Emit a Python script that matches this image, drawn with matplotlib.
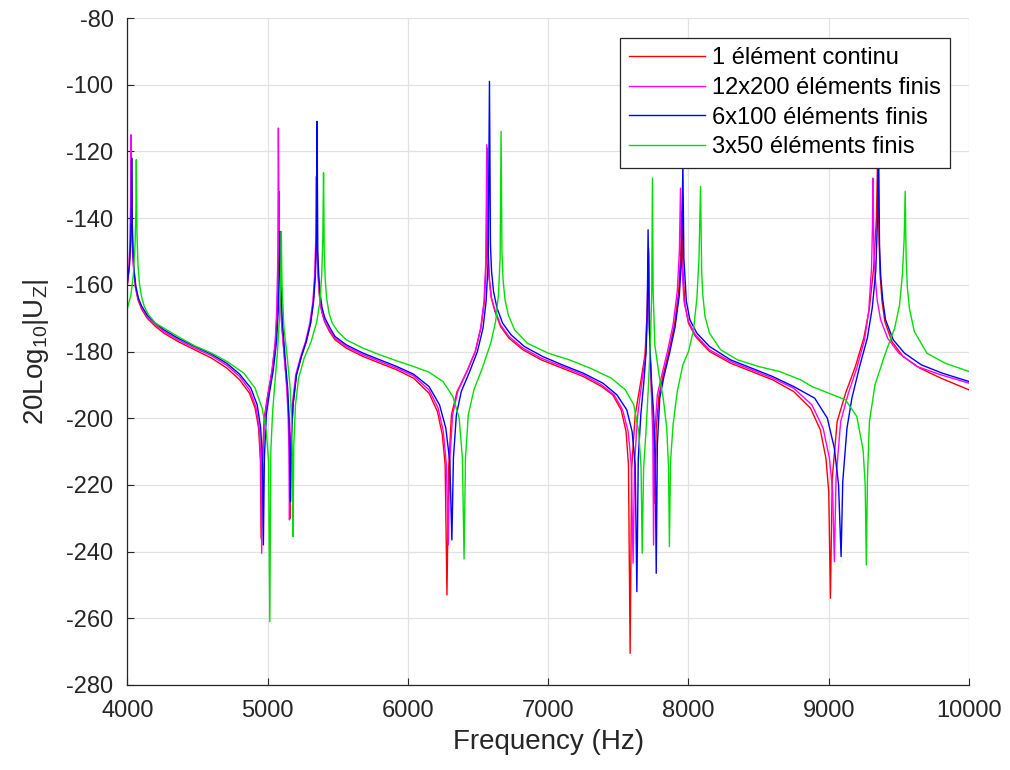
import matplotlib
matplotlib.use("Agg")
import matplotlib.pyplot as plt

plt.rcParams['font.family'] = ['Liberation Sans', 'DejaVu Sans']
plt.rcParams['mathtext.fontset'] = 'custom'
plt.rcParams['mathtext.rm'] = 'Liberation Sans'
plt.rcParams['mathtext.it'] = 'Liberation Sans:italic'
plt.rcParams['axes.unicode_minus'] = False

# valeurs (Hz, dB)
f_continu = [4000, 4012, 4020, 4025, 4028, 4032, 4038, 4046, 4058, 4075, 4100, 4140, 4200, 4260, 4360, 4480,
             4600, 4710, 4800, 4870, 4910, 4935, 4948, 4953, 4960, 4975, 5000, 5030, 5055, 5068, 5076, 5080,
             5086, 5100, 5120, 5140, 5150, 5156, 5160, 5166, 5180, 5205, 5240, 5275, 5305, 5325, 5338, 5346,
             5349, 5354, 5360, 5370, 5385, 5405, 5440, 5480, 5560, 5680, 5800, 5920, 6040, 6150, 6210, 6245,
             6265, 6278, 6290, 6310, 6350, 6420, 6480, 6520, 6545, 6558, 6565, 6572, 6580, 6595, 6620, 6660,
             6720, 6820, 6950, 7100, 7250, 7380, 7460, 7520, 7555, 7572, 7584, 7595, 7620, 7660, 7690, 7705,
             7715, 7725, 7740, 7752, 7760, 7770, 7790, 7820, 7860, 7900, 7930, 7945, 7952, 7960, 7975, 8000,
             8050, 8150, 8300, 8450, 8600, 8750, 8870, 8940, 8980, 9000, 9012, 9025, 9060, 9120, 9190, 9250,
             9290, 9320, 9340, 9350, 9358, 9366, 9380, 9400, 9450, 9530, 9650, 9800, 10000]
u_continu = [-160, -155, -148, -138, -122, -140, -150, -156, -161, -164.5, -167.2, -170, -172.5, -174.5, -177, -179.5,
             -182, -185, -188.5, -192.5, -197, -203, -213, -236, -214, -200, -193, -186, -177, -167, -152, -132,
             -155, -172, -182, -192, -200, -210, -230, -208, -196, -187, -181.5, -177, -171.5, -165, -157, -145,
             -130, -150, -157, -163.5, -168, -171, -174, -176.5, -179, -181.5, -183.5, -185.5, -188, -192.5, -198, -205,
             -214, -253, -215, -199, -192, -186, -180, -173, -165, -153, -119, -150, -158, -164, -168, -172.5,
             -176, -179.5, -182.5, -185, -187.5, -190.5, -193, -197.5, -204, -214, -270.5, -215, -199, -189, -181, -168,
             -150, -180, -195, -205, -225.5, -203, -193, -187, -180, -172, -162, -150, -138, -155, -166, -171.5,
             -175.5, -180, -183.5, -186, -188.5, -192, -197, -203.5, -212, -222, -254, -218, -201, -192.5, -184.5, -176,
             -167, -155, -140, -118, -145, -157, -165, -171, -177, -181.5, -185, -188, -191.5]

f_12x200 = [4000, 4010, 4018, 4022, 4025, 4030, 4036, 4044, 4056, 4075, 4100, 4140, 4200, 4260, 4360, 4480,
            4600, 4710, 4800, 4870, 4915, 4940, 4952, 4957, 4964, 4978, 5000, 5030, 5052, 5064, 5072, 5076,
            5082, 5098, 5118, 5136, 5146, 5151, 5155, 5161, 5175, 5200, 5235, 5270, 5300, 5322, 5335, 5343,
            5347, 5352, 5358, 5368, 5383, 5403, 5440, 5480, 5560, 5680, 5800, 5920, 6040, 6150, 6215, 6252,
            6274, 6287, 6298, 6318, 6355, 6420, 6480, 6518, 6542, 6555, 6562, 6569, 6577, 6592, 6620, 6660,
            6720, 6820, 6950, 7100, 7250, 7380, 7470, 7530, 7570, 7592, 7605, 7616, 7638, 7668, 7694, 7708,
            7716, 7725, 7737, 7746, 7751, 7758, 7778, 7810, 7850, 7890, 7920, 7935, 7943, 7950, 7968, 8000,
            8050, 8150, 8300, 8450, 8600, 8750, 8880, 8960, 9005, 9028, 9040, 9052, 9085, 9140, 9200, 9255,
            9285, 9305, 9312, 9315, 9322, 9330, 9345, 9370, 9420, 9500, 9630, 9800, 10000]
u_12x200 = [-159.5, -155, -147, -136, -115, -140, -150, -155.5, -160.5, -164, -166.7, -169.5, -172, -174, -176.5, -179,
            -181.3, -184.2, -187.5, -191.5, -196.5, -203, -214, -240.5, -213, -200, -193.5, -186, -178, -168, -152, -113,
            -150, -171, -181.5, -191, -200, -210, -230.5, -208, -196, -187, -181.5, -177, -171.5, -165, -157, -146,
            -127.5, -150, -156.5, -163, -167.5, -170.5, -173.5, -176, -178.5, -181, -183, -185, -187.3, -191.5, -197, -204,
            -214, -238, -213, -199, -192, -186, -180, -173, -165, -153, -118, -150, -157.5, -163.5, -167.5, -172,
            -175.5, -179, -182, -184.5, -187, -190, -193, -197.5, -204, -214, -243.5, -213, -199, -189, -181, -168,
            -149, -179, -194, -206, -238, -205, -193, -187, -180, -172, -162, -150, -131, -152, -165, -171,
            -175, -179.5, -183, -185.5, -188, -191, -196, -203, -212, -222, -243, -218, -201, -192.5, -185, -176.5,
            -168, -155, -142, -128, -150, -157, -164.5, -170.5, -176, -180.5, -184.5, -187, -189.5]

f_6x100 = [4000, 4015, 4024, 4028, 4030, 4034, 4040, 4048, 4060, 4078, 4100, 4140, 4200, 4260, 4360, 4480,
           4600, 4710, 4800, 4880, 4925, 4950, 4963, 4969, 4976, 4990, 5010, 5040, 5063, 5076, 5083, 5087,
           5092, 5105, 5124, 5142, 5152, 5158, 5162, 5168, 5182, 5205, 5240, 5275, 5306, 5327, 5340, 5348,
           5352, 5357, 5363, 5373, 5388, 5408, 5445, 5480, 5560, 5680, 5800, 5920, 6040, 6150, 6225, 6270,
           6298, 6313, 6324, 6345, 6380, 6440, 6495, 6535, 6557, 6572, 6581, 6588, 6596, 6610, 6635, 6675,
           6735, 6830, 6960, 7100, 7250, 7390, 7490, 7560, 7598, 7620, 7632, 7642, 7660, 7682, 7698, 7706,
           7712, 7720, 7735, 7752, 7763, 7770, 7778, 7795, 7825, 7865, 7905, 7935, 7950, 7960, 7967, 7985,
           8010, 8060, 8150, 8300, 8450, 8600, 8750, 8900, 8990, 9040, 9070, 9088, 9100, 9130, 9165, 9220,
           9275, 9310, 9335, 9348, 9355, 9362, 9370, 9385, 9405, 9460, 9540, 9660, 9810, 10000]
u_6x100 = [-159, -154, -146, -135, -122, -141, -150.5, -156, -160.5, -164, -166.3, -169, -171.5, -173.5, -176, -178.5,
           -180.8, -183.6, -186.8, -191, -196, -203, -214, -238, -212, -199, -193, -185.5, -177, -167, -155, -144,
           -158, -171, -182, -191, -200, -210, -225, -206, -195.5, -187, -181.5, -177, -171.5, -165, -157, -145,
           -111, -150, -156.5, -162.5, -167, -170, -173, -175.5, -178, -180.5, -182.5, -184.5, -186.8, -190.5, -196, -203,
           -213, -236.5, -212, -199, -192, -186, -180, -173, -165, -153, -99, -148, -156, -162, -167, -171.5,
           -175, -178.5, -181.5, -184, -186.5, -189.5, -193, -197.5, -204, -214, -252, -212, -199, -189, -180, -168,
           -143.5, -172, -188, -199, -212, -246.5, -208, -194, -187.5, -180.5, -172.5, -163, -152, -124, -152, -165,
           -170.5, -174.5, -178.5, -182.5, -185, -187.5, -190.5, -194, -200, -209, -220, -241.5, -219, -203, -194, -184.5,
           -176, -167, -156, -140, -115, -148, -157, -164.5, -170.5, -176.5, -180.5, -184, -186.5, -189]

f_3x50 = [4000, 4025, 4042, 4054, 4060, 4063, 4068, 4075, 4085, 4100, 4120, 4150, 4200, 4280, 4380, 4480,
          4600, 4710, 4830, 4910, 4960, 4990, 5006, 5015, 5022, 5035, 5050, 5070, 5085, 5092, 5097, 5102,
          5115, 5140, 5160, 5170, 5176, 5180, 5186, 5198, 5220, 5260, 5310, 5350, 5372, 5385, 5393, 5398,
          5403, 5410, 5420, 5437, 5460, 5500, 5560, 5680, 5800, 5920, 6040, 6150, 6250, 6320, 6365, 6388,
          6400, 6410, 6430, 6470, 6530, 6590, 6625, 6645, 6657, 6664, 6670, 6678, 6692, 6715, 6760, 6850,
          7000, 7150, 7300, 7450, 7550, 7610, 7645, 7662, 7670, 7680, 7697, 7715, 7730, 7738, 7743, 7748,
          7760, 7790, 7820, 7845, 7858, 7864, 7872, 7890, 7920, 7960, 8000, 8036, 8060, 8075, 8086, 8094,
          8102, 8118, 8150, 8230, 8350, 8500, 8650, 8800, 8880, 9000, 9120, 9200, 9245, 9260, 9268, 9276,
          9290, 9330, 9400, 9470, 9505, 9525, 9538, 9545, 9552, 9560, 9575, 9610, 9700, 9830, 10000]
u_3x50 = [-167, -163, -157, -148, -138, -122.5, -145, -154, -159.5, -163.5, -166.5, -169, -171.5, -173.5, -176, -178.3,
          -180.5, -183, -186.5, -191, -197, -204, -213, -261, -210, -198, -190, -180, -169, -158, -144, -160,
          -172.5, -182, -191, -200, -212, -235.5, -208, -196, -188, -182, -177, -171, -165, -157, -146, -126.4,
          -150, -158.5, -164, -168.5, -171.5, -174, -176.5, -179, -181, -182.8, -184.5, -186.2, -189, -193.5, -200, -212,
          -242.2, -212, -199, -191.5, -185, -177.5, -171, -163, -152, -114, -150, -158.5, -164.5, -169, -173.5, -177.5,
          -180.5, -182.5, -185, -188, -191.5, -196, -204, -215, -240.5, -215, -204, -190, -175, -162, -128, -162,
          -178, -187, -194, -203, -215, -238.5, -213, -202, -192, -184, -180, -173.5, -164, -152, -130.5, -156,
          -163, -169.5, -174.5, -179.5, -182.5, -184.5, -186, -188.5, -190.5, -192.5, -194.5, -199.5, -209.5, -220, -244, -218,
          -201, -190, -181, -173, -166, -157, -146, -132, -152, -160.5, -167, -174, -180.5, -183.5, -186]

series = [
    (f_continu, u_continu, 'red', '1 élément continu'),
    (f_12x200, u_12x200, 'magenta', '12x200 éléments finis'),
    (f_6x100, u_6x100, 'blue', '6x100 éléments finis'),
    (f_3x50, u_3x50, '#00e000', '3x50 éléments finis'),
]

fig = plt.figure(figsize=(10.1, 7.7), dpi=100)
ax = fig.add_axes([0.1262, 0.1104, 0.8332, 0.8662])

for f, u, c, lab in series:
    ax.plot(f, u, color=c, lw=1.0, label=lab)

ax.set_xlim(4000, 10000)
ax.set_ylim(-280, -80)
ax.set_xticks(range(4000, 10001, 1000))
ax.set_yticks(range(-280, -79, 20))
ax.grid(True, color='#e2e2e2', lw=0.9)
ax.set_axisbelow(True)
for s in ['top', 'right']:
    ax.spines[s].set_visible(False)
for s in ['left', 'bottom']:
    ax.spines[s].set_color('#262626')
    ax.spines[s].set_linewidth(0.9)
ax.tick_params(direction='in', length=5, width=0.8, colors='#262626', labelsize=17)
ax.tick_params(axis='x', pad=11)
ax.tick_params(axis='y', pad=10)

ax.set_xlabel('Frequency (Hz)', fontsize=20, color='#262626', labelpad=5)
ax.set_ylabel(r'20Log$_{\mathrm{10}}$|U$_{\mathrm{Z}}$|', fontsize=20, color='#262626', labelpad=11)

leg = ax.legend(loc='upper right', bbox_to_anchor=(0.9774, 0.970), borderaxespad=0,
                fontsize=17, fancybox=False, framealpha=1, edgecolor='#262626',
                handlelength=3.2, handletextpad=0.3, labelspacing=0.32, borderpad=0.4)
leg.get_frame().set_linewidth(0.9)

fig.savefig('out.png', dpi=100)
